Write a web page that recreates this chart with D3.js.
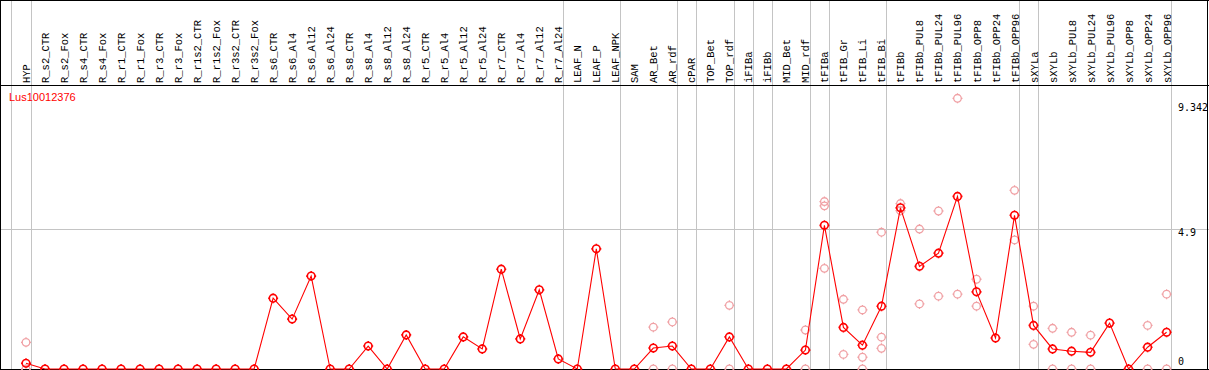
<!DOCTYPE html>
<html>
<head>
<meta charset="utf-8">
<script src="https://cdn.jsdelivr.net/npm/d3@7"></script>
<style>
  body { margin: 0; background: #fff; }
  svg { display: block; }
</style>
</head>
<body>
<div id="chart"></div>
<script>
// expression profile of one gene across all samples

var geneName = "Lus10012376";

var categories = ["HYP","R_s2_CTR","R_s2_Fox","R_s4_CTR","R_s4_Fox","R_r1_CTR","R_r1_Fox",
  "R_r3_CTR","R_r3_Fox","R_r1s2_CTR","R_r1s2_Fox","R_r3s2_CTR","R_r3s2_Fox",
  "R_s6_CTR","R_s6_Al4","R_s6_Al12","R_s6_Al24","R_s8_CTR","R_s8_Al4","R_s8_Al12","R_s8_Al24",
  "R_r5_CTR","R_r5_Al4","R_r5_Al12","R_r5_Al24","R_r7_CTR","R_r7_Al4","R_r7_Al12","R_r7_Al24",
  "LEAF_N","LEAF_P","LEAF_NPK","SAM","AR_Bet","AR_rdf","cPAR","TOP_Bet","TOP_rdf",
  "iFIBa","iFIBb","MID_Bet","MID_rdf","tFIBa","tFIB_Gr","tFIB_Li","tFIB_Bi","tFIBb",
  "tFIBb_PUL8","tFIBb_PUL24","tFIBb_PUL96","tFIBb_OPP8","tFIBb_OPP24","tFIBb_OPP96",
  "sXYLa","sXYLb","sXYLb_PUL8","sXYLb_PUL24","sXYLb_PUL96","sXYLb_OPP8","sXYLb_OPP24","sXYLb_OPP96"];

// mean value per sample (the red line)
var means = [0.20,0,0,0,0,0,0,0,0,0,0,0,0,
  2.47,1.74,3.24,0,0,0.80,0,1.19,
  0,0,1.12,0.70,3.48,1.05,2.76,0.35,
  0,4.19,0,0,0.73,0.80,0,0,1.12,
  0,0,0,0.66,5.01,1.45,0.83,2.19,5.62,
  3.58,4.04,6.02,2.69,1.08,5.36,
  1.52,0.70,0.62,0.58,1.60,0,0.76,1.28];

// single replicates (pale circles)
var replicates = [[0.93,0],[],[],[],[],[],[],[],[],[],[],[],[],
  [],[],[],[],[],[],[],[],
  [],[],[],[],[],[],[],[],
  [],[],[],[],[1.46,0],[1.64,0],[],[],[2.22,0],
  [],[],[],[1.36,0],[5.84,5.69,3.51],[2.43,0.51],[2.06,0.41,0],[4.77,1.11,0.72],[5.77,5.52],
  [4.88,2.27],[5.51,2.54],[9.44,2.61],[3.13,2.19],[],[6.23,4.50],
  [2.19,0.86],[1.42,0],[1.28,0],[1.18,0],[],[],[1.52,0],[2.61,0]];

// samples after which a group separator is drawn
var groupEnds = ["HYP","R_r7_Al24","LEAF_NPK","AR_rdf","cPAR","TOP_rdf","iFIBa","iFIBb",
  "MID_rdf","tFIBa","tFIB_Bi","tFIBb_OPP96","sXYLa","sXYLb_OPP96"];

var yTicks = [9.342, 4.9, 0];

var totalWidth = 1209, totalHeight = 370;
var headerH = 85;

var x = d3.scalePoint().domain(categories).range([26, 1166.6]);
var y = d3.scaleLinear().domain([0, 4.9]).range([369, 228.5]);

var svg = d3.select('#chart').append('svg')
    .attr('width', totalWidth)
    .attr('height', totalHeight);

var grey = '#c4c4c4';

// group separators (one extra before the first sample)
var sepX = [x(categories[0]) - x.step()].concat(groupEnds.map(function(c){ return x(c); }));
svg.selectAll('line.sep').data(sepX).enter().append('line')
    .attr('class', 'sep')
    .attr('x1', function(d){ return Math.round(d + 4.5) + 0.5; })
    .attr('x2', function(d){ return Math.round(d + 4.5) + 0.5; })
    .attr('y1', 0).attr('y2', totalHeight)
    .attr('stroke', grey);

// 4.9 guide line
svg.append('line')
    .attr('x1', 0).attr('x2', totalWidth)
    .attr('y1', Math.round(y(4.9)) + 0.5).attr('y2', Math.round(y(4.9)) + 0.5)
    .attr('stroke', grey);

// frame
var black = '#000';
svg.append('line').attr('x1',0).attr('x2',totalWidth).attr('y1',0.5).attr('y2',0.5).attr('stroke',black);
svg.append('line').attr('x1',0).attr('x2',totalWidth).attr('y1',headerH+0.5).attr('y2',headerH+0.5).attr('stroke',black);
svg.append('line').attr('x1',0).attr('x2',totalWidth).attr('y1',369.5).attr('y2',369.5).attr('stroke',black);
svg.append('line').attr('x1',0.5).attr('x2',0.5).attr('y1',0).attr('y2',totalHeight).attr('stroke',black);
svg.append('line').attr('x1',1207.5).attr('x2',1207.5).attr('y1',0).attr('y2',totalHeight).attr('stroke',black);

// sample labels, rotated
svg.selectAll('text.cat').data(categories).enter().append('text')
    .attr('class', 'cat')
    .attr('transform', function(d){ return 'translate(' + (x(d) + 4) + ',83) rotate(-90)'; })
    .attr('font-family', 'Liberation Mono, DejaVu Sans Mono, monospace')
    .attr('font-size', 10.5)
    .attr('fill', '#000')
    .text(function(d){ return d; });

// y tick labels on the right
svg.selectAll('text.ytick').data(yTicks).enter().append('text')
    .attr('class', 'ytick')
    .attr('x', 1178)
    .attr('y', function(d){ return d === 0 ? y(d) - 4 : (d === 4.9 ? y(d) + 7 : 110.5); })
    .attr('font-family', 'DejaVu Sans Mono, monospace')
    .attr('font-size', 10)
    .attr('fill', '#000')
    .text(function(d){ return d; });

// gene name
svg.append('text')
    .attr('x', 9).attr('y', 101)
    .attr('font-family', 'Liberation Sans, Arial, sans-serif')
    .attr('font-size', 11)
    .attr('fill', '#ff0000')
    .text(geneName);

// circle with small ticks, like the old bitmap markers
var tickCircle = {
  draw: function(ctx, size) {
    var r = Math.sqrt(size / Math.PI);
    ctx.moveTo(r, 0);
    ctx.arc(0, 0, r, 0, 2 * Math.PI);
    ctx.moveTo(r, 0); ctx.lineTo(r + 1.2, 0);
    ctx.moveTo(-r, 0); ctx.lineTo(-r - 1.2, 0);
    ctx.moveTo(0, r); ctx.lineTo(0, r + 1.2);
    ctx.moveTo(0, -r); ctx.lineTo(0, -r - 1.2);
  }
};
var marker = d3.symbol().type(tickCircle).size(Math.PI * 3.8 * 3.8);

// replicate points
var repPts = [];
categories.forEach(function(c, i){
  replicates[i].forEach(function(v){ repPts.push({cat: c, v: v}); });
});
svg.selectAll('path.rep').data(repPts).enter().append('path')
    .attr('class', 'rep')
    .attr('d', marker)
    .attr('transform', function(d){ return 'translate(' + x(d.cat) + ',' + y(d.v) + ')'; })
    .attr('fill', 'none')
    .attr('stroke', '#f0a0a4')
    .attr('stroke-width', 1.3);

// mean line
var line = d3.line()
    .x(function(d, i){ return x(categories[i]); })
    .y(function(d){ return y(d); });

svg.append('path')
    .datum(means)
    .attr('d', line)
    .attr('fill', 'none')
    .attr('stroke', '#ff0000')
    .attr('stroke-width', 1.1);

svg.selectAll('path.mean').data(means).enter().append('path')
    .attr('class', 'mean')
    .attr('d', marker)
    .attr('transform', function(d, i){ return 'translate(' + x(categories[i]) + ',' + y(d) + ')'; })
    .attr('fill', 'none')
    .attr('stroke', '#ff0000')
    .attr('stroke-width', 1.6);
</script>
</body>
</html>
